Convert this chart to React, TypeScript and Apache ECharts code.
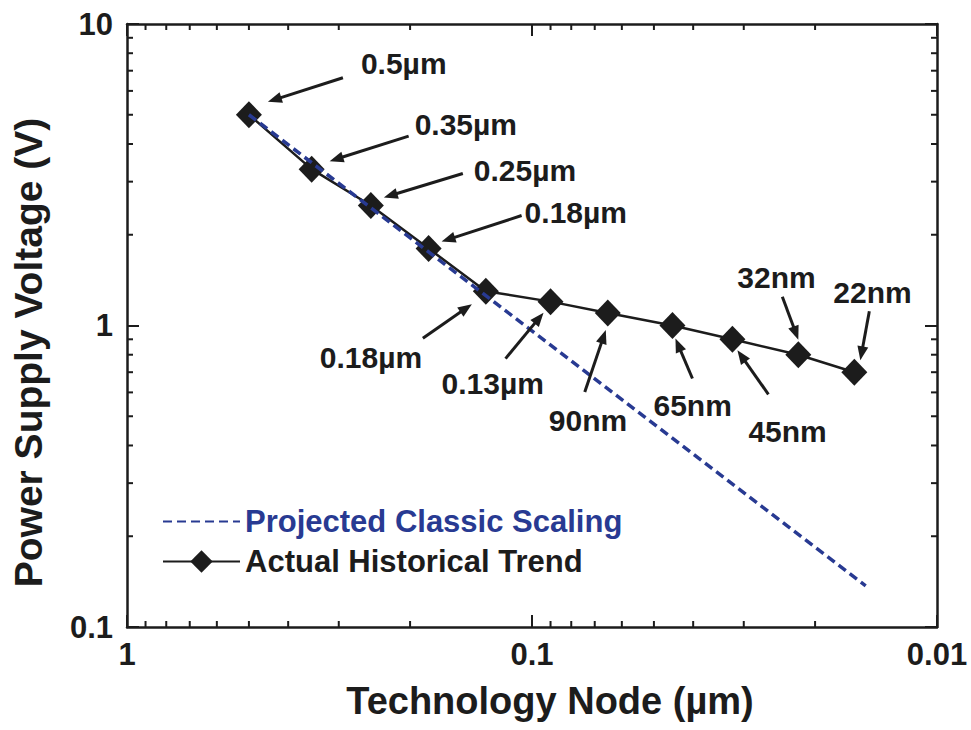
import React, { useEffect, useRef } from "react";
import * as echarts from "echarts";

// Technology node (µm) and supply voltage (V) of the actual historical trend
const nodeUm = [0.5, 0.35, 0.25, 0.18, 0.13, 0.09, 0.065, 0.045, 0.032, 0.022, 0.016];
const supplyV = [5, 3.3, 2.5, 1.8, 1.3, 1.2, 1.1, 1.0, 0.9, 0.8, 0.7];
const nodeLabels = ["0.5µm", "0.35µm", "0.25µm", "0.18µm", "0.18µm", "0.13µm", "90nm", "65nm", "45nm", "32nm", "22nm"];

// Projected classic (constant-field) scaling line end points
const classicNodeUm = [0.5, 0.015];
const classicV = [5, 0.137];

// Minor log ticks (2..9 of every decade)
const xMinorTicks = [0.02, 0.03, 0.04, 0.05, 0.06, 0.07, 0.08, 0.09, 0.2, 0.3, 0.4, 0.5, 0.6, 0.7, 0.8, 0.9];
const yMinorTicks = [0.2, 0.3, 0.4, 0.5, 0.6, 0.7, 0.8, 0.9, 2, 3, 4, 5, 6, 7, 8, 9];

// Pixel offsets of each callout (text anchor, arrow tail, arrow head) from its point
const calloutOffsets = [
  { text: [112, -51], tail: [94, -37], head: [19, -13] },
  { text: [103, -45], tail: [97, -33], head: [18, -8] },
  { text: [103, -35], tail: [92, -32], head: [13, -8] },
  { text: [96, -36], tail: [93, -33], head: [13, -7] },
  { text: [-166, 66], tail: [-63, 47], head: [-14, 13] },
  { text: [-109, 82], tail: [-45, 57], head: [-7, 11] },
  { text: [-59, 107], tail: [-23, 79], head: [-2, 17] },
  { text: [-19, 80], tail: [20, 53], head: [3, 13] },
  { text: [16, 92], tail: [36, 55], head: [5, 11] },
  { text: [-61, -77], tail: [-16, -58], head: [0, -15] },
  { text: [-21, -80], tail: [15, -61], head: [6, -12] },
];

const FONT = '"Liberation Sans", Arial, Helvetica, sans-serif';
const INK = "#1c1c1c";
const BLUE = "#283a92";

export default function App() {
  const ref = useRef<HTMLDivElement>(null);

  useEffect(() => {
    if (!ref.current) return;
    const chart = echarts.init(ref.current, null, { renderer: "svg" });

    const xAxisBase = {
      type: "log" as const,
      logBase: 10,
      min: 0.01,
      max: 1,
      inverse: true,
      axisLine: { onZero: false, lineStyle: { color: INK, width: 2.5 } },
      axisTick: { inside: true, length: 12, lineStyle: { color: INK, width: 2 } },
      minorTick: { show: false },
      splitLine: { show: false },
    };
    const yAxisBase = {
      type: "log" as const,
      logBase: 10,
      min: 0.1,
      max: 10,
      axisLine: { onZero: false, lineStyle: { color: INK, width: 2.5 } },
      axisTick: { inside: true, length: 12, lineStyle: { color: INK, width: 2 } },
      minorTick: { show: false },
      splitLine: { show: false },
    };

    const tickStyle = { stroke: INK, lineWidth: 2 };

    chart.setOption({
      animation: false,
      backgroundColor: "#ffffff",
      grid: { left: 127, top: 24, right: 34, bottom: 103, containLabel: false },
      legend: {
        orient: "vertical",
        left: 157,
        top: 501,
        itemWidth: 77,
        itemHeight: 28,
        itemGap: 9,
        textStyle: { fontSize: 31, fontWeight: "bold", fontFamily: FONT, color: INK },
        data: [
          { name: "Projected Classic Scaling", itemStyle: { opacity: 0 }, textStyle: { color: BLUE } },
          { name: "Actual Historical Trend" },
        ],
        selectedMode: false,
      },
      xAxis: [
        {
          ...xAxisBase,
          position: "bottom",
          axisLabel: { fontSize: 31, fontWeight: "bold", fontFamily: FONT, color: INK, margin: 12 },
          name: "Technology Node (µm)",
          nameLocation: "middle",
          nameGap: 55,
          nameTextStyle: { fontSize: 38, fontWeight: "bold", fontFamily: FONT, color: INK, padding: [0, 0, 0, 36] },
        },
        { ...xAxisBase, position: "top", axisLabel: { show: false } },
      ],
      yAxis: [
        {
          ...yAxisBase,
          position: "left",
          axisLabel: { fontSize: 31, fontWeight: "bold", fontFamily: FONT, color: INK, margin: 14 },
          name: "Power Supply Voltage (V)",
          nameLocation: "middle",
          nameGap: 79,
          nameTextStyle: { fontSize: 39, fontWeight: "bold", fontFamily: FONT, color: INK, padding: [0, 54, 0, 0] },
        },
        { ...yAxisBase, position: "right", axisLabel: { show: false } },
      ],
      series: [
        {
          name: "Projected Classic Scaling",
          type: "line",
          z: 4,
          data: classicNodeUm.map((x, i) => [x, classicV[i]]),
          symbol: "none",
          lineStyle: { color: BLUE, width: 3.5, type: [9, 5] },
          itemStyle: { color: BLUE },
        },
        {
          name: "Actual Historical Trend",
          type: "line",
          z: 3,
          data: nodeUm.map((x, i) => [x, supplyV[i]]),
          symbol: "diamond",
          symbolSize: [26, 27],
          lineStyle: { color: INK, width: 2.5 },
          itemStyle: { color: INK },
        },
        {
          // minor ticks on bottom and top axes
          type: "custom",
          silent: true,
          z: 1,
          data: xMinorTicks.map((v) => [v, 1]),
          renderItem: (_p: any, api: any) => {
            const v = api.value(0);
            const b = api.coord([v, 0.1]);
            const t = api.coord([v, 10]);
            return {
              type: "group",
              children: [
                { type: "line", shape: { x1: b[0], y1: b[1], x2: b[0], y2: b[1] - 6 }, style: tickStyle },
                { type: "line", shape: { x1: t[0], y1: t[1], x2: t[0], y2: t[1] + 6 }, style: tickStyle },
              ],
            };
          },
        },
        {
          // minor ticks on left and right axes
          type: "custom",
          silent: true,
          z: 1,
          data: yMinorTicks.map((v) => [0.1, v]),
          renderItem: (_p: any, api: any) => {
            const v = api.value(1);
            const l = api.coord([1, v]);
            const r = api.coord([0.01, v]);
            return {
              type: "group",
              children: [
                { type: "line", shape: { x1: l[0], y1: l[1], x2: l[0] + 6, y2: l[1] }, style: tickStyle },
                { type: "line", shape: { x1: r[0], y1: r[1], x2: r[0] - 6, y2: r[1] }, style: tickStyle },
              ],
            };
          },
        },
        {
          // node callouts with arrows
          type: "custom",
          silent: true,
          clip: false,
          z: 5,
          data: nodeUm.map((x, i) => [x, supplyV[i]]),
          renderItem: (params: any, api: any) => {
            const i = params.dataIndex;
            const o = calloutOffsets[i];
            const p = api.coord([api.value(0), api.value(1)]);
            const x0 = p[0] + o.tail[0];
            const y0 = p[1] + o.tail[1];
            const x1 = p[0] + o.head[0];
            const y1 = p[1] + o.head[1];
            const ang = Math.atan2(y1 - y0, x1 - x0);
            const c = Math.cos(ang);
            const s = Math.sin(ang);
            const L = 14;
            const W = 5.5;
            const bx = x1 - L * c;
            const by = y1 - L * s;
            return {
              type: "group",
              children: [
                { type: "line", shape: { x1: x0, y1: y0, x2: bx + 2 * c, y2: by + 2 * s }, style: { stroke: INK, lineWidth: 3 } },
                {
                  type: "polygon",
                  shape: { points: [[x1, y1], [bx - W * s, by + W * c], [bx + W * s, by - W * c]] },
                  style: { fill: INK },
                },
                {
                  type: "text",
                  x: p[0] + o.text[0],
                  y: p[1] + o.text[1],
                  style: {
                    text: nodeLabels[i],
                    fill: INK,
                    fontSize: 30,
                    fontWeight: "bold",
                    fontFamily: FONT,
                    align: "left",
                    verticalAlign: "middle",
                  },
                },
              ],
            };
          },
        },
      ],
    });

    return () => chart.dispose();
  }, []);

  return (
    <div
      ref={ref}
      style={{ position: "absolute", left: 0, top: 0, width: 971, height: 730, background: "#fff" }}
    />
  );
}
